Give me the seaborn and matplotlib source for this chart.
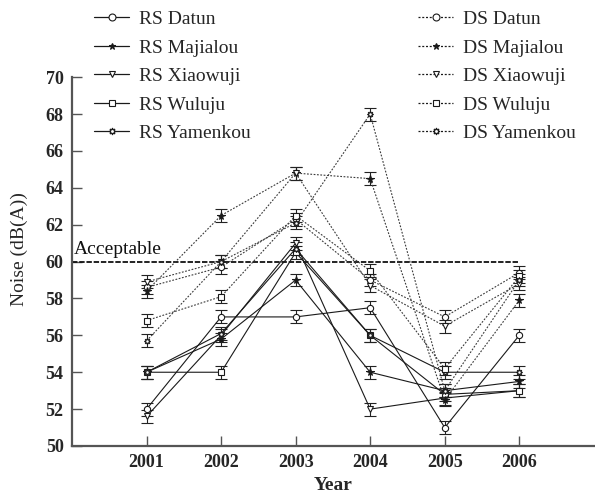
import matplotlib
matplotlib.use("Agg")
import matplotlib.pyplot as plt
from matplotlib.lines import Line2D
import numpy as np
import pandas as pd
import seaborn as sns

# ---------------- data ----------------
years = [2001, 2002, 2003, 2004, 2005, 2006]
sites = ["Datun", "Majialou", "Xiaowuji", "Wuluju", "Yamenkou"]

rs_datun    = [52.0, 57.0, 57.0, 57.5, 51.0, 56.0]
rs_majialou = [54.0, 55.8, 59.0, 54.0, 53.0, 53.5]
rs_xiaowuji = [51.6, 56.0, 61.0, 52.0, 52.6, 53.0]
rs_wuluju   = [54.0, 54.0, 60.5, 56.0, 52.8, 53.0]
rs_yamenkou = [54.0, 56.1, 60.7, 56.0, 54.0, 54.0]

ds_datun    = [58.6, 59.7, 62.3, 59.0, 57.0, 59.4]
ds_majialou = [58.4, 62.5, 64.8, 64.5, 52.5, 57.9]
ds_xiaowuji = [58.9, 60.0, 64.8, 58.7, 56.5, 58.8]
ds_wuluju   = [56.8, 58.1, 62.5, 59.5, 54.2, 59.2]
ds_yamenkou = [55.7, 60.0, 62.1, 68.0, 53.0, 59.0]

error = 0.35
acceptable_level = 60
yticks = [50, 52, 54, 56, 58, 60, 62, 64, 66, 68, 70]

rs = dict(zip(sites, [rs_datun, rs_majialou, rs_xiaowuji, rs_wuluju, rs_yamenkou]))
ds = dict(zip(sites, [ds_datun, ds_majialou, ds_xiaowuji, ds_wuluju, ds_yamenkou]))

rows = []
for kind, table in (("RS", rs), ("DS", ds)):
    for site in sites:
        for yr, v in zip(years, table[site]):
            rows.append({"series": f"{kind} {site}", "kind": kind, "site": site,
                         "Year": yr, "Noise": v})
df = pd.DataFrame(rows)

# ---------------- style ----------------
sns.set_theme(style="ticks")
plt.rcParams["font.family"] = ["Liberation Serif", "DejaVu Serif"]

marker_of = {"Datun": "o", "Majialou": "*", "Xiaowuji": "v",
             "Wuluju": "s", "Yamenkou": (8, 1, 0)}
series_order = [f"RS {s}" for s in sites] + [f"DS {s}" for s in sites]
markers = {s: marker_of[s.split(" ", 1)[1]] for s in series_order}
dashes = {s: ("" if s.startswith("RS") else (1.6, 1.4)) for s in series_order}
palette = {s: ("#1a1a1a" if s.startswith("RS") else "#3a3a3a") for s in series_order}

fig = plt.figure(figsize=(5.95, 4.95), dpi=100)
ax = fig.add_axes([0.121, 0.099, 0.877, 0.745])

sns.lineplot(data=df, x="Year", y="Noise", hue="series", style="series",
             hue_order=series_order, style_order=series_order,
             markers=markers, dashes=dashes, palette=palette,
             linewidth=0.8, markersize=4.5, markerfacecolor="white",
             markeredgecolor="#1a1a1a", markeredgewidth=0.8,
             legend=False, ax=ax, zorder=3)
for ln in ax.lines:
    if ln.get_marker() == "*":
        ln.set_markerfacecolor("#1a1a1a")
        ln.set_markersize(5.5)

ax.errorbar(df["Year"], df["Noise"], yerr=error, fmt="none",
            ecolor="#222222", elinewidth=0.8, capsize=4, capthick=0.8, zorder=2)

ax.hlines(acceptable_level, years[0] - 1, years[-1], colors="#111111",
          linestyles=(0, (3, 1)), linewidth=1.3, zorder=1)
ax.text(years[0] - 0.98, acceptable_level + 0.22, "Acceptable", fontsize=14,
        ha="left", va="bottom", color="#111111")

ax.set_xlim(2000, 2007)
ax.set_ylim(50, 70)
ax.set_xticks(years)
ax.set_yticks(yticks)
ax.tick_params(direction="in", length=7, width=1.0, color="#555555",
               labelsize=13, pad=6)
for lab in ax.get_xticklabels() + ax.get_yticklabels():
    lab.set_fontweight("bold")
for side in ("top", "right"):
    ax.spines[side].set_visible(False)
for side in ("left", "bottom"):
    ax.spines[side].set_color("#555555")
    ax.spines[side].set_linewidth(1.6)

ax.set_xlabel("Year", fontsize=14, fontweight="bold", labelpad=4)
ax.set_ylabel("Noise (dB(A))", fontsize=14)
ax.yaxis.set_label_coords(-0.085, 0.534)

# ---------------- legends ----------------
def handle(kind, site):
    return Line2D([], [], color="#1a1a1a", linewidth=0.9,
                  linestyle="-" if kind == "RS" else (0, (1.6, 1.4)),
                  marker=marker_of[site], markersize=5,
                  markerfacecolor="#1a1a1a" if site == "Majialou" else "white",
                  markeredgecolor="#1a1a1a", markeredgewidth=0.8)

rs_handles = [handle("RS", s) for s in sites]
ds_handles = [handle("DS", s) for s in sites]
common = dict(loc="upper left", frameon=False, fontsize=14, handlelength=1.8,
              labelspacing=0.56, handletextpad=0.5, borderpad=0, borderaxespad=0)
fig.legend(rs_handles, [f"RS {s}" for s in sites],
           bbox_to_anchor=(0.158, 0.979), **common)
fig.legend(ds_handles, [f"DS {s}" for s in sites],
           bbox_to_anchor=(0.703, 0.979), **common)

fig.savefig("out.png", dpi=100)
